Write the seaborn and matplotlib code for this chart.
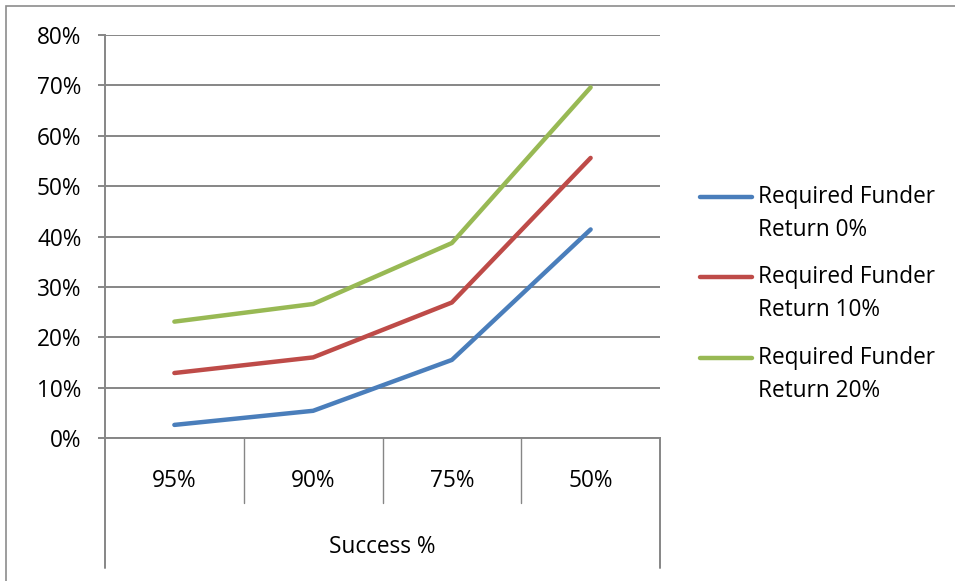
import matplotlib
matplotlib.use("Agg")
import matplotlib.pyplot as plt
import matplotlib.transforms as mtransforms
from matplotlib.lines import Line2D
from matplotlib.patches import Rectangle
import seaborn as sns
import pandas as pd

categories = ["95%", "90%", "75%", "50%"]
series_names = ["Required Funder\nReturn 0%", "Required Funder\nReturn 10%", "Required Funder\nReturn 20%"]
return_0 = [0.026, 0.054, 0.155, 0.414]
return_10 = [0.129, 0.160, 0.269, 0.556]
return_20 = [0.231, 0.266, 0.387, 0.696]
y_ticks = [0.0, 0.1, 0.2, 0.3, 0.4, 0.5, 0.6, 0.7, 0.8]
x_title = "Success %"
colors = ["#4A7EBB", "#BE4B48", "#98B954"]

sns.set_theme(style="white")
plt.rcParams["font.family"] = ["Open Sans", "DejaVu Sans"]

rows = []
for name, vals in zip(series_names, [return_0, return_10, return_20]):
    for i, (c, v) in enumerate(zip(categories, vals)):
        rows.append({"pos": i, "cat": c, "value": v, "series": name})
df = pd.DataFrame(rows)

W, H = 955, 581
FS = 16.3
fig = plt.figure(figsize=(W / 100, H / 100), dpi=100)
fig.patch.set_facecolor("white")

# outer chart border
fig.add_artist(Rectangle((6 / W, -0.01), 1.1, 1 - 6 / H + 0.01, transform=fig.transFigure,
                         fill=False, edgecolor="#8C8C8C", linewidth=1.2))

L, R, T, B = 105, 660, 35, 438
ax = fig.add_axes([L / W, 1 - B / H, (R - L) / W, (B - T) / H])

grid_c = "#868686"
sns.lineplot(data=df, x="pos", y="value", hue="series", palette=colors,
             linewidth=3.2, ax=ax, legend=False, solid_capstyle="round", sort=False)

ax.set_xlim(-0.5, 3.5)
ax.set_ylim(0, 0.8)
ax.set_yticks(y_ticks)
ax.set_yticklabels([f"{int(round(t * 100))}%" for t in y_ticks], fontsize=FS, color="#000000")
ax.yaxis.grid(True, color=grid_c, linewidth=1.4)
ax.set_axisbelow(True)
ax.tick_params(axis="y", length=5, width=1.4, color=grid_c, pad=12, left=True)
ax.set_xticks([])
ax.set_xlabel("")
ax.set_ylabel("")
for s in ["top", "right"]:
    ax.spines[s].set_visible(False)
ax.spines["left"].set_color(grid_c)
ax.spines["left"].set_linewidth(1.4)
ax.spines["bottom"].set_color(grid_c)
ax.spines["bottom"].set_linewidth(1.4)

# category box below axis
trans = mtransforms.blended_transform_factory(ax.transData, ax.transAxes)
h = B - T
sep_bottom = -(503 - B) / h
outer_bottom = -(568 - B) / h
for xs in [0.5, 1.5, 2.5]:
    ax.add_line(Line2D([xs, xs], [0, sep_bottom], transform=trans, color=grid_c,
                       linewidth=1.0, clip_on=False))
for xs in [-0.5, 3.5]:
    ax.add_line(Line2D([xs, xs], [0, outer_bottom], transform=trans, color=grid_c,
                       linewidth=1.4, clip_on=False))
for i, c in enumerate(categories):
    ax.text(i, -(481 - B) / h, c, transform=trans, ha="center", va="center",
            fontsize=FS, color="#000000")
ax.text(0.5, -(547 - B) / h, x_title, transform=ax.transAxes, ha="center", va="center",
        fontsize=FS, color="#000000")

# legend (Excel style: handle aligned with first text line)
leg_y = [197, 277, 358]
for col, name, y in zip(colors, series_names, leg_y):
    fig.add_artist(Line2D([700 / W, 752 / W], [1 - y / H, 1 - y / H], transform=fig.transFigure,
                          color=col, linewidth=3.2, solid_capstyle="round"))
    l1, l2 = name.split("\n")
    fig.text(758 / W, 1 - y / H, l1, ha="left", va="center", fontsize=FS, color="#000000")
    fig.text(758 / W, 1 - (y + 33) / H, l2, ha="left", va="center", fontsize=FS, color="#000000")

fig.savefig("out.png", dpi=100)
